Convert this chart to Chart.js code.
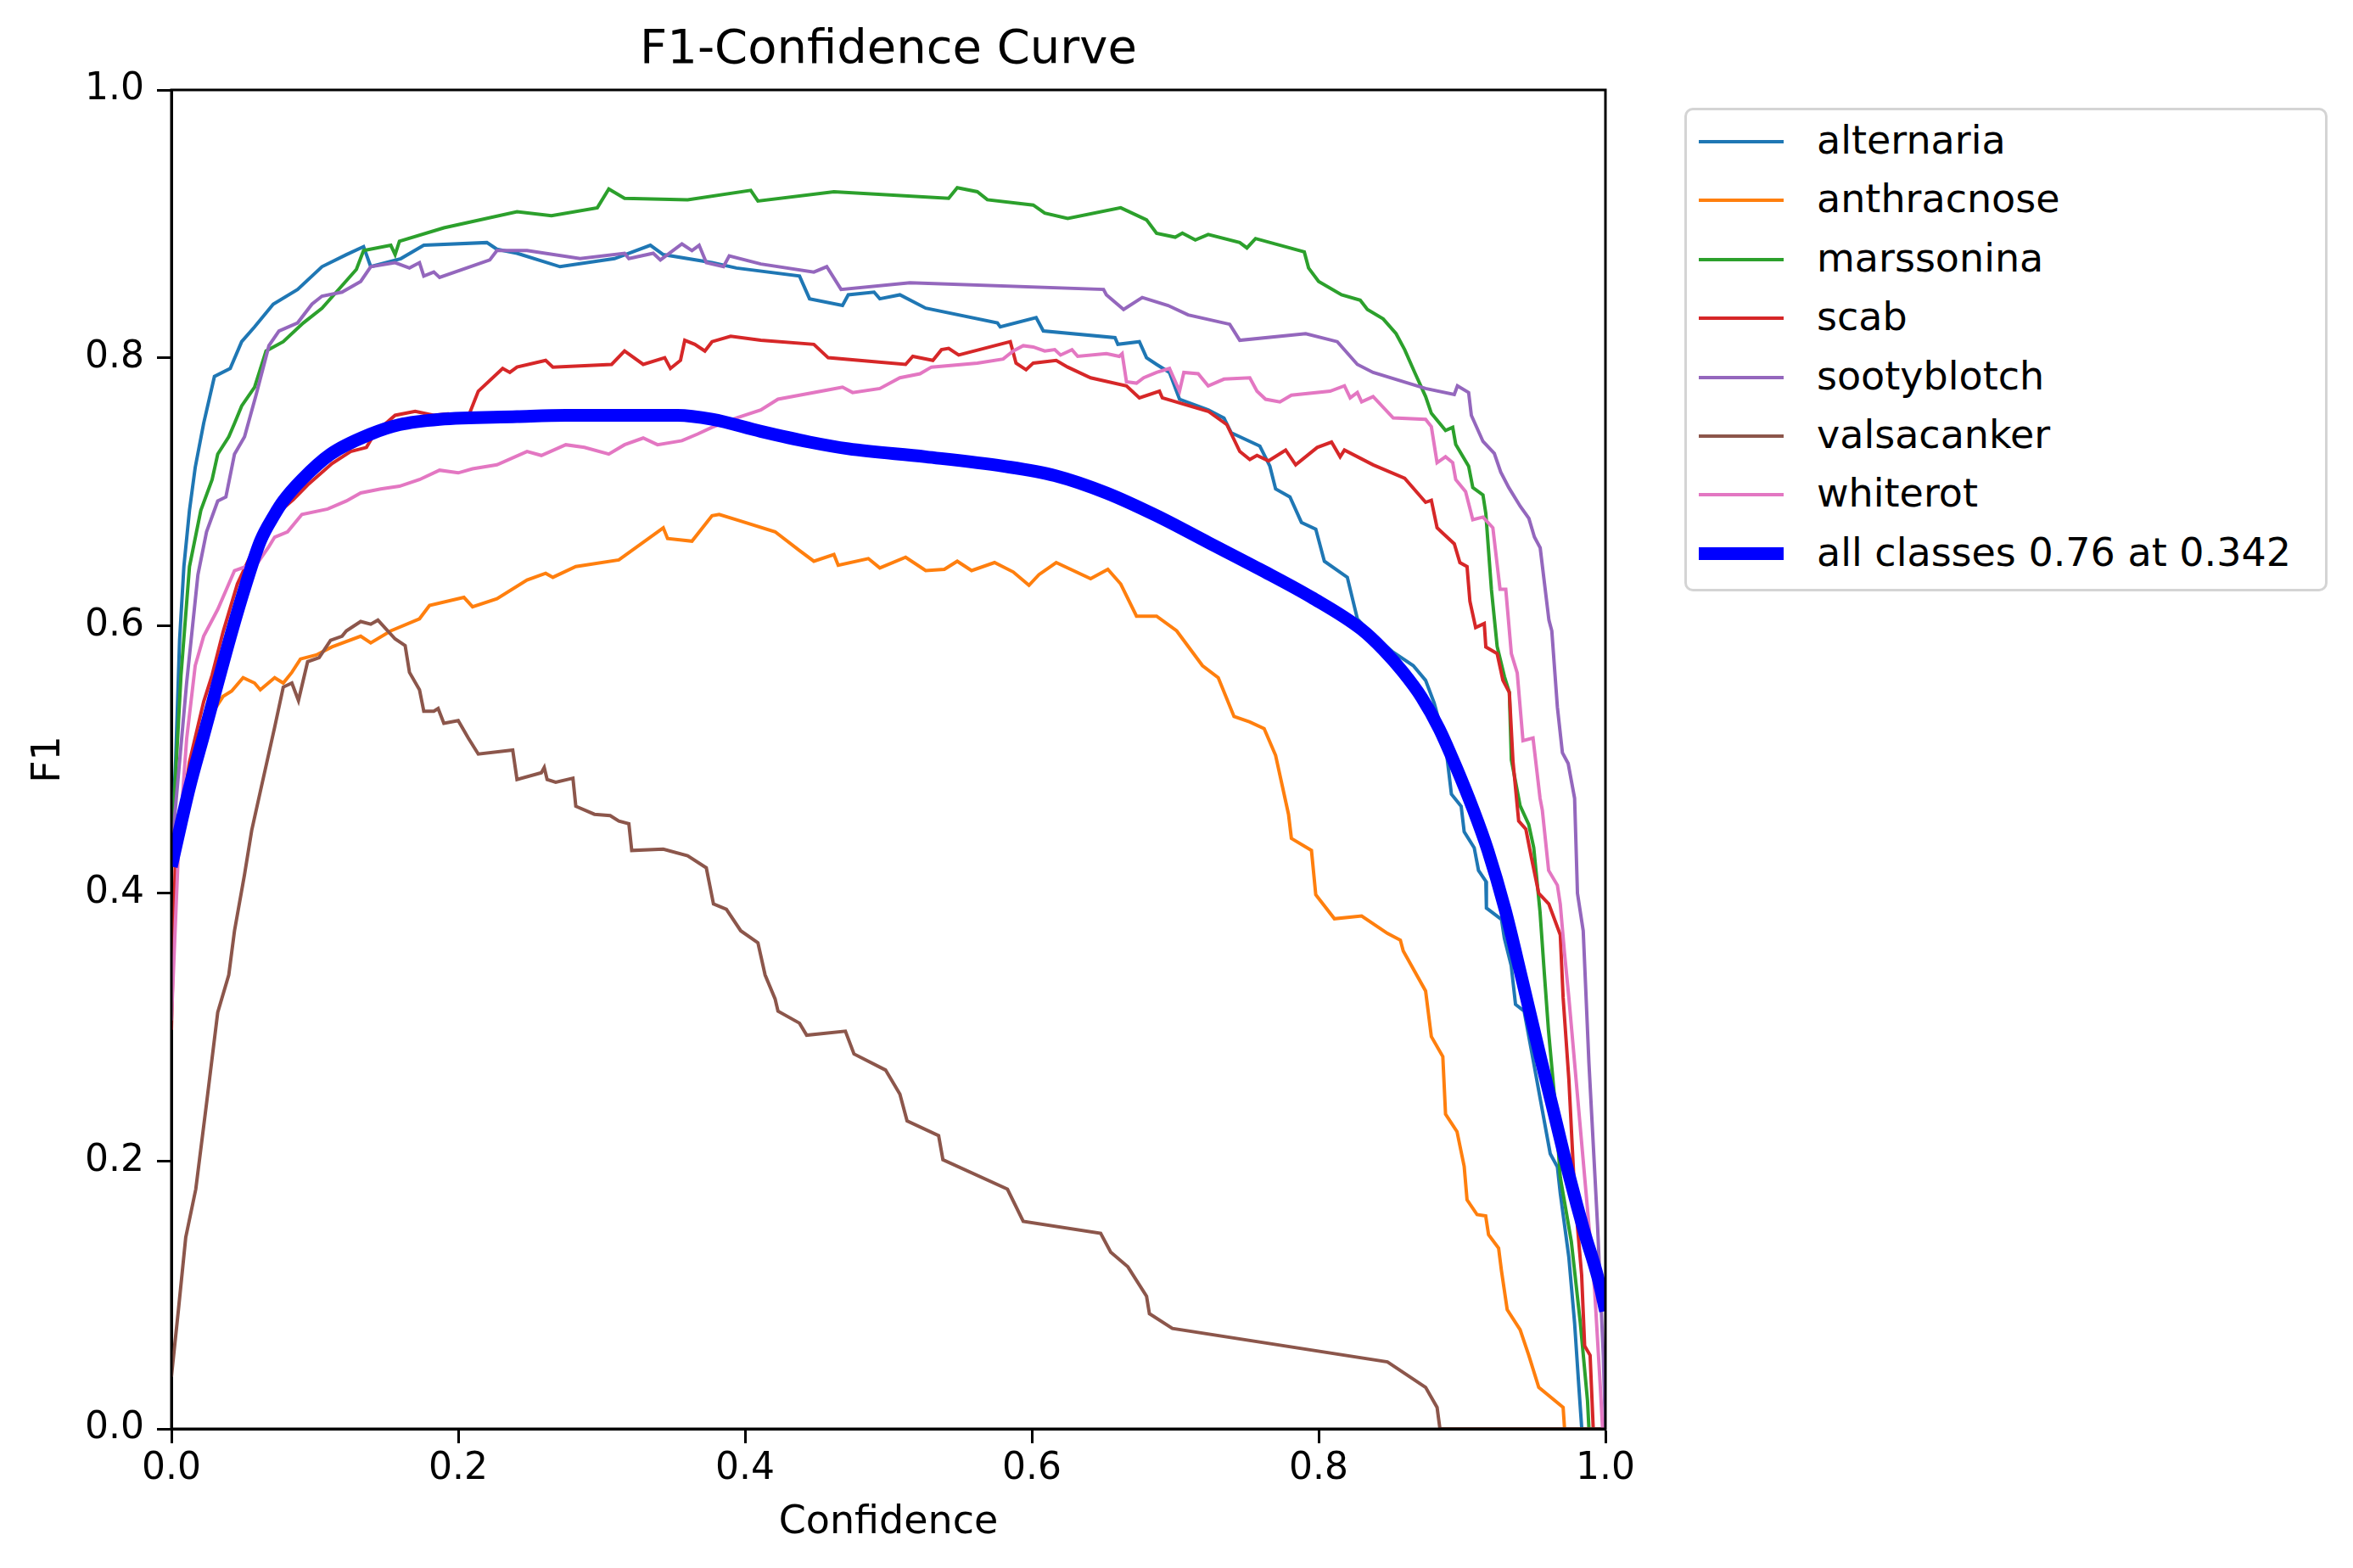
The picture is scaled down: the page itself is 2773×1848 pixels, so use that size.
<!DOCTYPE html>
<html>
<head>
<meta charset="utf-8">
<script src="https://cdn.jsdelivr.net/npm/chart.js@4.4.1/dist/chart.umd.min.js"></script>
<style>
html,body{margin:0;padding:0;background:#fff;}
#wrap{position:relative;width:2773px;height:1848px;overflow:hidden;background:#fff;}
#c{position:absolute;left:0;top:0;}
#legend{position:absolute;left:1985px;top:127px;width:752px;height:564px;border:3px solid #d4d4d4;border-radius:10px;background:#fff;font-family:'DejaVu Sans';font-size:46px;color:#000;}
.sw{position:absolute;left:14px;width:100px;}
.lab{position:absolute;left:153px;white-space:nowrap;line-height:46px;height:46px;}
</style>
</head>
<body>
<div id="wrap">
<canvas id="c" width="2773" height="1848"></canvas>
<div id="legend"></div>
</div>
<script>
// ---- data (confidence, F1) ----
const seriesNames = ['alternaria','anthracnose','marssonina','scab','sootyblotch','valsacanker','whiterot'];
const seriesColors = ['#1f77b4','#ff7f0e','#2ca02c','#d62728','#9467bd','#8c564b','#e377c2'];
const allLabel = 'all classes 0.76 at 0.342';
const allColor = '#0000ff';
const xTicks = [0, 0.2, 0.4, 0.6, 0.8, 1.0];
const yTicks = [0, 0.2, 0.4, 0.6, 0.8, 1.0];

const alternaria = [[0,0.43],[0.003,0.50],[0.0057,0.589],[0.0087,0.644],[0.0126,0.686],[0.0166,0.718],[0.0225,0.751],[0.03,0.786],[0.041,0.792],[0.049,0.812],[0.058,0.823],[0.071,0.84],[0.088,0.851],[0.105,0.868],[0.122,0.877],[0.134,0.883],[0.139,0.868],[0.16,0.874],[0.176,0.884],[0.22,0.886],[0.227,0.881],[0.241,0.878],[0.271,0.868],[0.309,0.874],[0.334,0.884],[0.343,0.877],[0.377,0.871],[0.394,0.867],[0.438,0.861],[0.445,0.844],[0.468,0.839],[0.472,0.847],[0.49,0.849],[0.494,0.844],[0.508,0.847],[0.526,0.837],[0.576,0.826],[0.578,0.823],[0.603,0.83],[0.608,0.82],[0.658,0.815],[0.66,0.81],[0.675,0.812],[0.68,0.80],[0.687,0.795],[0.696,0.789],[0.703,0.769],[0.723,0.761],[0.734,0.755],[0.739,0.744],[0.759,0.734],[0.766,0.719],[0.77,0.702],[0.78,0.696],[0.788,0.677],[0.798,0.672],[0.804,0.648],[0.82,0.636],[0.827,0.605],[0.834,0.597],[0.852,0.58],[0.866,0.570],[0.8746,0.559],[0.8806,0.542],[0.8885,0.511],[0.8926,0.474],[0.8994,0.465],[0.9015,0.446],[0.9085,0.434],[0.9115,0.417],[0.9166,0.409],[0.917,0.389],[0.9275,0.3805],[0.9295,0.3665],[0.9343,0.346],[0.9373,0.317],[0.9433,0.312],[0.9495,0.276],[0.9615,0.2055],[0.9665,0.1956],[0.9685,0.176],[0.9745,0.128],[0.9785,0.079],[0.9815,0.031],[0.9835,0],[1,0]];

const anthracnose = [[0,0.43],[0.0126,0.486],[0.0225,0.525],[0.036,0.547],[0.042,0.551],[0.05,0.561],[0.058,0.557],[0.062,0.552],[0.072,0.561],[0.078,0.557],[0.084,0.565],[0.09,0.575],[0.101,0.578],[0.112,0.584],[0.132,0.592],[0.139,0.587],[0.153,0.596],[0.173,0.605],[0.18,0.615],[0.204,0.621],[0.21,0.614],[0.227,0.62],[0.248,0.634],[0.261,0.639],[0.266,0.636],[0.282,0.644],[0.312,0.649],[0.343,0.673],[0.346,0.665],[0.363,0.663],[0.377,0.682],[0.382,0.683],[0.397,0.678],[0.421,0.670],[0.438,0.656],[0.448,0.648],[0.462,0.653],[0.465,0.645],[0.486,0.65],[0.494,0.643],[0.512,0.651],[0.526,0.641],[0.539,0.642],[0.548,0.648],[0.558,0.641],[0.574,0.647],[0.587,0.64],[0.598,0.63],[0.605,0.638],[0.617,0.647],[0.641,0.635],[0.653,0.642],[0.662,0.631],[0.673,0.607],[0.687,0.607],[0.701,0.596],[0.719,0.570],[0.73,0.561],[0.741,0.532],[0.752,0.528],[0.762,0.523],[0.77,0.503],[0.779,0.459],[0.781,0.441],[0.795,0.432],[0.798,0.399],[0.811,0.381],[0.83,0.383],[0.848,0.37],[0.857,0.365],[0.859,0.357],[0.8746,0.327],[0.8786,0.293],[0.8866,0.278],[0.8885,0.235],[0.8965,0.222],[0.9015,0.196],[0.9035,0.171],[0.9105,0.16],[0.9165,0.159],[0.9185,0.145],[0.9255,0.135],[0.9275,0.118],[0.9315,0.089],[0.9405,0.074],[0.9465,0.055],[0.9535,0.031],[0.9705,0.016],[0.9715,0],[1,0]];

const marssonina = [[0,0.43],[0.0067,0.563],[0.0126,0.644],[0.0205,0.686],[0.0284,0.709],[0.0323,0.728],[0.04,0.741],[0.044,0.751],[0.049,0.764],[0.058,0.778],[0.066,0.805],[0.078,0.812],[0.092,0.826],[0.105,0.837],[0.115,0.849],[0.129,0.866],[0.134,0.88],[0.153,0.884],[0.156,0.877],[0.159,0.887],[0.19,0.897],[0.241,0.909],[0.265,0.906],[0.297,0.912],[0.305,0.926],[0.316,0.919],[0.36,0.918],[0.404,0.925],[0.409,0.917],[0.462,0.924],[0.542,0.919],[0.548,0.927],[0.562,0.924],[0.569,0.918],[0.601,0.914],[0.609,0.908],[0.625,0.904],[0.662,0.912],[0.68,0.903],[0.687,0.893],[0.7,0.89],[0.705,0.893],[0.714,0.888],[0.723,0.892],[0.745,0.886],[0.75,0.882],[0.756,0.889],[0.79,0.879],[0.793,0.867],[0.8,0.857],[0.816,0.847],[0.829,0.843],[0.834,0.836],[0.845,0.829],[0.854,0.818],[0.86,0.806],[0.867,0.789],[0.8746,0.771],[0.8786,0.7585],[0.8885,0.7457],[0.8935,0.748],[0.8956,0.7353],[0.9046,0.719],[0.9075,0.703],[0.9146,0.6975],[0.9166,0.6836],[0.9205,0.6268],[0.9245,0.5843],[0.9296,0.5618],[0.933,0.55],[0.9344,0.4997],[0.9405,0.4654],[0.9465,0.4514],[0.95,0.434],[0.9544,0.386],[0.9574,0.34],[0.9603,0.2975],[0.9644,0.249],[0.9685,0.188],[0.9762,0.14],[0.9825,0.079],[0.9875,0.021],[0.9885,0],[1,0]];

const scab = [[0,0.298],[0.0028,0.427],[0.0126,0.498],[0.0225,0.543],[0.0284,0.563],[0.036,0.595],[0.046,0.631],[0.056,0.654],[0.072,0.682],[0.085,0.694],[0.095,0.705],[0.112,0.721],[0.125,0.73],[0.136,0.733],[0.142,0.744],[0.156,0.757],[0.17,0.76],[0.183,0.757],[0.193,0.758],[0.207,0.756],[0.214,0.775],[0.231,0.792],[0.236,0.789],[0.241,0.793],[0.261,0.798],[0.266,0.793],[0.307,0.795],[0.316,0.805],[0.329,0.795],[0.344,0.8],[0.348,0.792],[0.355,0.798],[0.358,0.813],[0.365,0.81],[0.372,0.805],[0.377,0.812],[0.39,0.816],[0.411,0.813],[0.448,0.81],[0.458,0.8],[0.49,0.797],[0.512,0.795],[0.517,0.801],[0.531,0.798],[0.537,0.806],[0.542,0.807],[0.549,0.802],[0.585,0.812],[0.589,0.796],[0.596,0.791],[0.601,0.796],[0.617,0.798],[0.625,0.793],[0.641,0.785],[0.666,0.779],[0.675,0.77],[0.689,0.775],[0.691,0.77],[0.723,0.76],[0.736,0.75],[0.745,0.73],[0.752,0.724],[0.757,0.727],[0.765,0.723],[0.777,0.731],[0.784,0.72],[0.799,0.733],[0.809,0.737],[0.815,0.726],[0.818,0.731],[0.838,0.72],[0.86,0.71],[0.8746,0.692],[0.8786,0.6935],[0.8826,0.673],[0.8865,0.669],[0.8946,0.661],[0.8985,0.647],[0.9035,0.644],[0.9055,0.618],[0.9095,0.5985],[0.9155,0.6015],[0.9166,0.584],[0.9245,0.579],[0.9285,0.559],[0.933,0.55],[0.9355,0.499],[0.9395,0.454],[0.9445,0.448],[0.9485,0.426],[0.9535,0.40],[0.9605,0.392],[0.9685,0.369],[0.9705,0.322],[0.9745,0.261],[0.9785,0.176],[0.9834,0.115],[0.9855,0.062],[0.9893,0.055],[0.9915,0],[1,0]];

const sootyblotch = [[0,0.43],[0.0106,0.557],[0.0185,0.638],[0.0245,0.67],[0.0323,0.693],[0.038,0.696],[0.044,0.728],[0.051,0.741],[0.059,0.772],[0.068,0.809],[0.075,0.82],[0.088,0.826],[0.098,0.84],[0.105,0.846],[0.119,0.849],[0.132,0.857],[0.139,0.868],[0.156,0.871],[0.166,0.867],[0.173,0.871],[0.176,0.861],[0.183,0.864],[0.187,0.86],[0.222,0.873],[0.227,0.88],[0.248,0.88],[0.285,0.874],[0.316,0.878],[0.319,0.874],[0.336,0.878],[0.341,0.873],[0.356,0.885],[0.363,0.88],[0.368,0.884],[0.373,0.871],[0.385,0.868],[0.389,0.876],[0.411,0.87],[0.448,0.864],[0.457,0.868],[0.467,0.851],[0.515,0.856],[0.65,0.851],[0.652,0.847],[0.664,0.836],[0.677,0.845],[0.695,0.839],[0.709,0.832],[0.738,0.825],[0.745,0.813],[0.791,0.818],[0.813,0.812],[0.827,0.795],[0.838,0.789],[0.8746,0.777],[0.8946,0.7726],[0.8968,0.779],[0.9046,0.774],[0.9065,0.757],[0.9146,0.7375],[0.9225,0.7286],[0.927,0.7146],[0.9326,0.703],[0.9406,0.689],[0.9466,0.68],[0.9505,0.666],[0.9545,0.658],[0.9606,0.604],[0.9626,0.596],[0.9665,0.539],[0.970,0.505],[0.974,0.497],[0.9785,0.471],[0.9805,0.40],[0.9845,0.372],[0.9885,0.273],[0.9945,0.152],[0.9985,0.055],[1,0]];

const valsacanker = [[0,0.039],[0.005,0.09],[0.01,0.143],[0.017,0.179],[0.0245,0.243],[0.0323,0.311],[0.04,0.339],[0.044,0.372],[0.051,0.414],[0.056,0.447],[0.062,0.476],[0.072,0.524],[0.078,0.554],[0.084,0.557],[0.0886,0.544],[0.095,0.573],[0.103,0.576],[0.111,0.589],[0.119,0.592],[0.122,0.596],[0.132,0.603],[0.139,0.601],[0.144,0.604],[0.156,0.59],[0.163,0.585],[0.166,0.565],[0.173,0.552],[0.176,0.536],[0.183,0.536],[0.186,0.538],[0.19,0.527],[0.2,0.529],[0.207,0.516],[0.214,0.504],[0.238,0.507],[0.241,0.485],[0.258,0.49],[0.26,0.494],[0.262,0.485],[0.268,0.483],[0.28,0.486],[0.282,0.465],[0.295,0.459],[0.306,0.458],[0.312,0.454],[0.319,0.452],[0.321,0.432],[0.343,0.433],[0.36,0.428],[0.373,0.419],[0.378,0.392],[0.387,0.388],[0.397,0.372],[0.409,0.363],[0.414,0.339],[0.421,0.321],[0.423,0.312],[0.438,0.303],[0.443,0.294],[0.47,0.297],[0.476,0.28],[0.498,0.268],[0.508,0.25],[0.513,0.23],[0.535,0.219],[0.538,0.201],[0.583,0.179],[0.594,0.155],[0.648,0.146],[0.655,0.132],[0.667,0.121],[0.68,0.099],[0.682,0.086],[0.698,0.075],[0.848,0.05],[0.8746,0.031],[0.8826,0.016],[0.8846,0],[1,0]];

const whiterot = [[0,0.305],[0.0047,0.427],[0.0106,0.515],[0.0166,0.57],[0.0225,0.592],[0.0323,0.612],[0.044,0.641],[0.052,0.644],[0.059,0.645],[0.068,0.659],[0.072,0.666],[0.081,0.67],[0.091,0.683],[0.109,0.687],[0.122,0.693],[0.132,0.699],[0.146,0.702],[0.159,0.704],[0.173,0.709],[0.187,0.716],[0.2,0.714],[0.21,0.717],[0.227,0.72],[0.248,0.73],[0.258,0.727],[0.275,0.735],[0.288,0.733],[0.305,0.728],[0.316,0.735],[0.329,0.74],[0.339,0.735],[0.356,0.738],[0.367,0.743],[0.377,0.748],[0.394,0.755],[0.411,0.761],[0.423,0.769],[0.438,0.772],[0.458,0.776],[0.468,0.778],[0.475,0.774],[0.494,0.777],[0.508,0.785],[0.522,0.788],[0.53,0.793],[0.562,0.796],[0.58,0.799],[0.587,0.805],[0.594,0.809],[0.601,0.808],[0.609,0.805],[0.616,0.806],[0.62,0.802],[0.628,0.806],[0.632,0.801],[0.652,0.803],[0.661,0.801],[0.663,0.803],[0.666,0.782],[0.673,0.781],[0.678,0.785],[0.687,0.789],[0.696,0.792],[0.703,0.775],[0.706,0.789],[0.716,0.788],[0.723,0.779],[0.734,0.784],[0.752,0.785],[0.757,0.775],[0.763,0.769],[0.773,0.767],[0.781,0.772],[0.808,0.775],[0.818,0.779],[0.822,0.77],[0.827,0.774],[0.83,0.767],[0.838,0.771],[0.852,0.755],[0.8746,0.754],[0.8786,0.7485],[0.8826,0.7216],[0.8885,0.726],[0.8935,0.7216],[0.8956,0.709],[0.9025,0.70],[0.9075,0.679],[0.9146,0.681],[0.9215,0.673],[0.9265,0.627],[0.9305,0.627],[0.9344,0.579],[0.9385,0.5645],[0.9425,0.514],[0.9495,0.516],[0.9544,0.471],[0.956,0.462],[0.9604,0.417],[0.9665,0.406],[0.9685,0.392],[0.9715,0.355],[0.9745,0.322],[0.9805,0.249],[0.9865,0.176],[0.9925,0.103],[0.9965,0.03],[0.998,0],[1,0]];

const allClasses = [[0,0.42],[0.0126,0.479],[0.0225,0.518],[0.0323,0.557],[0.042,0.595],[0.052,0.631],[0.062,0.663],[0.072,0.683],[0.078,0.693],[0.091,0.709],[0.111,0.728],[0.139,0.743],[0.159,0.75],[0.187,0.754],[0.241,0.756],[0.275,0.757],[0.353,0.757],[0.377,0.754],[0.411,0.745],[0.445,0.737],[0.472,0.732],[0.526,0.726],[0.58,0.719],[0.616,0.712],[0.652,0.699],[0.687,0.682],[0.723,0.662],[0.759,0.642],[0.795,0.621],[0.83,0.597],[0.845,0.582],[0.859,0.565],[0.872,0.546],[0.884,0.523],[0.896,0.494],[0.908,0.462],[0.918,0.432],[0.93,0.388],[0.942,0.335],[0.955,0.276],[0.965,0.232],[0.975,0.188],[0.985,0.148],[0.995,0.112],[1.0,0.088]];

const seriesData = [alternaria, anthracnose, marssonina, scab, sootyblotch, valsacanker, whiterot];

// ---- chart ----
const FONT = 'DejaVu Sans';
Chart.defaults.font.family = FONT;
Chart.defaults.color = '#000';

const toPts = arr => arr.map(p => ({x: p[0], y: p[1]}));
const datasets = seriesNames.map((n, i) => ({
  label: n, data: toPts(seriesData[i]), borderColor: seriesColors[i], backgroundColor: seriesColors[i],
  borderWidth: 4, pointRadius: 0, tension: 0, fill: false, order: 10 - i
}));
datasets.push({label: allLabel, data: toPts(allClasses), borderColor: allColor, backgroundColor: allColor,
  borderWidth: 15, pointRadius: 0, cubicInterpolationMode: 'monotone', fill: false, order: 0,
  borderCapStyle: 'butt'});

const frame = {
  id: 'frame',
  afterDraw(chart) {
    const {ctx, chartArea: a} = chart;
    ctx.save();
    ctx.strokeStyle = '#000';
    ctx.lineWidth = 3;
    ctx.strokeRect(a.left, a.top, a.right - a.left, a.bottom - a.top);
    ctx.restore();
  }
};

new Chart(document.getElementById('c'), {
  type: 'line',
  data: {datasets},
  plugins: [frame],
  options: {
    responsive: false, animation: false, devicePixelRatio: 1,
    layout: {padding: {left: 0, top: 0, right: 881, bottom: 0}},
    plugins: {
      legend: {display: false},
      tooltip: {enabled: false},
      title: {display: true, text: 'F1-Confidence Curve', fullSize: false, color: '#000',
        font: {family: FONT, size: 56, weight: 'normal'}, padding: {top: 26, bottom: 12.8}}
    },
    scales: {
      x: {
        type: 'linear', min: 0, max: 1,
        afterBuildTicks: s => { s.ticks = xTicks.map(v => ({value: v})); },
        ticks: {callback: v => Number(v).toFixed(1), font: {family: FONT, size: 44}, color: '#000',
          padding: 4, maxRotation: 0, autoSkip: false},
        grid: {display: true, drawOnChartArea: false, drawTicks: true, tickLength: 17, tickWidth: 3, tickColor: '#000'},
        border: {display: true, color: '#000', width: 3},
        title: {display: true, text: 'Confidence', color: '#000', font: {family: FONT, size: 46}, padding: {top: 0, bottom: 25}},
        afterFit: s => { s.height = 164; }
      },
      y: {
        type: 'linear', min: 0, max: 1,
        afterBuildTicks: s => { s.ticks = yTicks.map(v => ({value: v})); },
        ticks: {callback: v => Number(v).toFixed(1), font: {family: FONT, size: 44}, color: '#000', padding: 15, autoSkip: false},
        grid: {display: true, drawOnChartArea: false, drawTicks: true, tickLength: 17, tickWidth: 3, tickColor: '#000'},
        border: {display: true, color: '#000', width: 3},
        title: {display: true, text: 'F1', color: '#000', font: {family: FONT, size: 46}, padding: {top: 30, bottom: 0}},
        afterFit: s => { s.width = 202; }
      }
    }
  }
});

// ---- legend (HTML text) ----
const leg = document.getElementById('legend');
const legNames = seriesNames.concat([allLabel]);
const legColors = seriesColors.concat([allColor]);
legNames.forEach((n, i) => {
  const cy = 37 + i * 69.4;
  const thick = i === legNames.length - 1 ? 15 : 4;
  const sw = document.createElement('div');
  sw.className = 'sw';
  sw.style.top = (cy - thick / 2) + 'px';
  sw.style.height = thick + 'px';
  sw.style.background = legColors[i];
  leg.appendChild(sw);
  const lb = document.createElement('div');
  lb.className = 'lab';
  lb.style.top = (cy - 25) + 'px';
  lb.textContent = n;
  leg.appendChild(lb);
});
</script>
</body>
</html>
